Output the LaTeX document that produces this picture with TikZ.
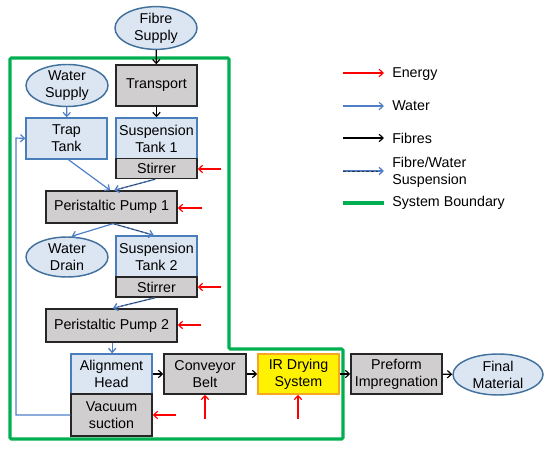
\documentclass[tikz,border=0pt]{standalone}
\usepackage{fontspec}
\setmainfont{Liberation Sans}
\usetikzlibrary{arrows.meta,shapes.geometric,calc}
\definecolor{lblue}{HTML}{DCE6F2}
\definecolor{bblue}{HTML}{4A7EBB}
\definecolor{eblue}{HTML}{41719C}
\definecolor{gfill}{HTML}{D0CECE}
\definecolor{gborder}{HTML}{262626}
\definecolor{sysgreen}{HTML}{00B050}
\definecolor{ybord}{HTML}{F5A623}
\definecolor{wblue}{HTML}{4F7FC8}
\tikzset{
  base/.style={draw, line width=1.1pt, inner sep=0pt, align=center, font=\fontsize{10.7}{12.7}\selectfont},
  bluebox/.style={base, fill=lblue, draw=bblue},
  graybox/.style={base, fill=gfill, draw=gborder},
  yelbox/.style={base, fill=yellow, draw=ybord},
  oval/.style={base, ellipse, fill=lblue, draw=eblue},
  tip/.style={-{Straight Barb[length=3pt,width=5.5pt]}},
  energy/.style={tip, draw=red, line width=0.9pt},
  water/.style={tip, draw=wblue, line width=0.9pt},
  fibre/.style={tip, draw=black, line width=0.9pt},
  suspb/.style={tip, draw=wblue, line width=1pt},
  suspk/.style={draw=black!80, line width=0.5pt, dash pattern=on 2pt off 1.5pt},
  legtext/.style={anchor=west, align=left, inner sep=0pt, font=\fontsize{10.7}{12.7}\selectfont},
}
\begin{document}
\begin{tikzpicture}[x=0.75pt,y=-0.75pt]
\useasboundingbox (0,0) rectangle (550,452);
% system boundary
\draw[sysgreen, line width=2.3pt, rounded corners=1pt] (10,58) -- (229,58) -- (229,349) -- (343,349) -- (343,439) -- (10,439) -- cycle;
% nodes
\node[oval, minimum width=61.5pt, minimum height=28.5pt] (fs) at (156,28) {Fibre\\Supply};
\node[graybox, minimum width=60.75pt, minimum height=30.75pt] (tr) at (156.5,85.5) {Transport};
\node[oval, minimum width=61.5pt, minimum height=30pt] (ws) at (67,85.5) {Water\\Supply};
\node[bluebox, minimum width=60.75pt, minimum height=30.75pt] (tt) at (66.5,138.5) {Trap\\Tank};
\node[bluebox, minimum width=60.75pt, minimum height=30.75pt] (t1) at (156.5,138.5) {Suspension\\Tank 1};
\node[graybox, minimum width=60.75pt, minimum height=15pt] (s1) at (156.5,168.5) {Stirrer};
\node[graybox, minimum width=98.25pt, minimum height=24pt] (p1) at (111.5,207) {Peristaltic Pump 1};
\node[oval, minimum width=61.5pt, minimum height=30pt] (wd) at (67,257) {Water\\Drain};
\node[bluebox, minimum width=60.75pt, minimum height=30.75pt] (t2) at (156.5,256.5) {Suspension\\Tank 2};
\node[graybox, minimum width=60.75pt, minimum height=15pt] (s2) at (156.5,287) {Stirrer};
\node[graybox, minimum width=98.25pt, minimum height=24.75pt] (p2) at (111.5,325.5) {Peristaltic Pump 2};
\node[bluebox, minimum width=60.75pt, minimum height=30pt] (ah) at (111.5,374) {Alignment\\Head};
\node[graybox, minimum width=60.75pt, minimum height=31.5pt] (vs) at (111.5,415) {Vacuum\\suction};
\node[graybox, minimum width=61.5pt, minimum height=30pt] (cb) at (205,374) {Conveyor\\Belt};
\node[yelbox, minimum width=60.75pt, minimum height=30pt] (ir) at (298.5,374) {IR Drying\\System};
\node[graybox, minimum width=68.25pt, minimum height=30pt] (pi) at (396.5,374) {Preform\\Impregnation};
\node[oval, minimum width=67.5pt, minimum height=30.75pt] (fm) at (498,374.5) {Final\\Material};
% fibre arrows
\draw[fibre] (fs) -- (tr);
\draw[fibre] (tr) -- (t1);
\draw[fibre] (ah) -- (cb);
\draw[fibre] (cb) -- (ir);
\draw[fibre] (ir) -- (pi);
\draw[fibre] (pi) -- (fm);
% water arrows
\draw[water] (ws) -- (tt);
\draw[water] ([xshift=1.5pt]tt.south) -- ([xshift=-1pt]p1.north);
\draw[water] ([xshift=1pt]p1.south) -- ([xshift=3.5pt]wd.north);
\coordinate (vl) at (16,415);
\coordinate (vu) at (16,138);
\draw[water] (vs.west) -- (vl) -- (vu) -- (tt.west);
% suspension arrows
\coordinate (p1in) at ([xshift=2pt]p1.north);
\draw[suspb] ([xshift=-1pt]s1.south) -- (p1in);
\draw[suspk] ([xshift=-1pt]s1.south) -- ($(p1in)!0.1!([xshift=-1pt]s1.south)$);
\coordinate (p1out) at ([xshift=1.5pt]p1.south);
\draw[suspb] (p1out) -- ([xshift=-2pt]t2.north);
\draw[suspk] (p1out) -- ($([xshift=-2pt]t2.north)!0.1!(p1out)$);
\coordinate (p2in) at ([xshift=1pt]p2.north);
\draw[suspb] ([xshift=-1pt]s2.south) -- (p2in);
\draw[suspk] ([xshift=-1pt]s2.south) -- ($(p2in)!0.12!([xshift=-1pt]s2.south)$);
\draw[suspb] ([xshift=0.5pt]p2.south) -- ([xshift=0.5pt]ah.north);
% energy arrows
\coordinate (e1) at (221,169);
\draw[energy] (e1) -- (e1 -| s1.east);
\coordinate (e2) at (202,208);
\draw[energy] (e2) -- (e2 -| p1.east);
\coordinate (e3) at (221,287);
\draw[energy] (e3) -- (e3 -| s2.east);
\coordinate (e4) at (201,325);
\draw[energy] (e4) -- (e4 -| p2.east);
\coordinate (e5) at (176,415);
\draw[energy] (e5) -- (e5 -| vs.east);
\coordinate (e6) at (205,419);
\draw[energy] (e6) -- (e6 |- cb.south);
\coordinate (e7) at (298,419);
\draw[energy] (e7) -- (e7 |- ir.south);
% legend
\coordinate (la1) at (343,73);  \coordinate (lb1) at (384,73);
\coordinate (la2) at (343,106); \coordinate (lb2) at (384,106);
\coordinate (la3) at (343,138); \coordinate (lb3) at (384,138);
\coordinate (la4) at (343,171); \coordinate (lb4) at (384,171);
\coordinate (la5) at (343,203); \coordinate (lb5) at (384,203);
\draw[energy] (la1) -- (lb1);
\draw[water] (la2) -- (lb2);
\draw[fibre] (la3) -- (lb3);
\draw[suspb] (la4) -- (lb4);
\draw[suspk] (la4) -- ($(lb4)!0.12!(la4)$);
\draw[sysgreen, line width=2.3pt] (la5) -- (lb5);
\node[legtext] (l1) at (392,74) {Energy};
\node[legtext] (l2) at (392,106) {Water};
\node[legtext] (l3) at (392,138) {Fibres};
\node[legtext] (l4) at (392,172) {Fibre/Water\\Suspension};
\node[legtext] (l5) at (392,203) {System Boundary};
\end{tikzpicture}
\end{document}
